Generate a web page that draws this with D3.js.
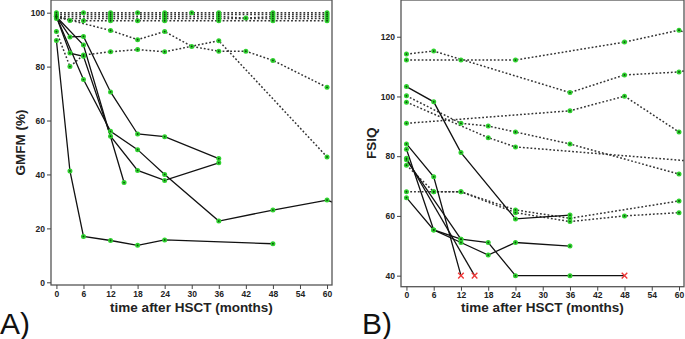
<!DOCTYPE html>
<html>
<head>
  <script src="https://d3js.org/d3.v7.min.js"></script>
  <style>
    body { margin: 0; background: #fff; }
    .tick text {
      font: bold 8.5px "Liberation Sans Narrow", "Arial Narrow", "Liberation Sans", sans-serif;
      fill: #222;
    }
    .tick line { stroke: #444; }
    .title {
      font: bold 13.5px "Liberation Sans Narrow", "Arial Narrow", "Liberation Sans", sans-serif;
      fill: #222;
    }
    .panel-letter {
      font: 30px "Liberation Sans", Arial, sans-serif;
      fill: #111;
    }
  </style>
</head>
<body>
  <svg class="chart"></svg>
  <script>
    // x tick values (months) shared by both panels
    var monthTicks = [0, 6, 12, 18, 24, 30, 36, 42, 48, 54, 60];

    // A) GMFM (%) -- dotted = stable patients, solid = declining patients
    var gmfmTicks = [0, 20, 40, 60, 80, 100];
    var gmfmDotted = [
      [[0, 100], [6, 100], [12, 100], [18, 100], [24, 100], [30, 100], [36, 100], [48, 100], [60, 100]],
      [[0, 99.3], [12, 99.3], [24, 99.3], [36, 99.3], [48, 99.3], [60, 99.3]],
      [[0, 98.6], [12, 98.6], [24, 98.6], [36, 98.6], [42, 98], [48, 98.6], [60, 98.6]],
      [[0, 97.8], [12, 97.8], [24, 97.8], [36, 97.8], [48, 97.8], [60, 97.8]],
      [[0, 99], [3, 97.1], [6, 97], [12, 97], [18, 97], [24, 97], [36, 97], [48, 97], [60, 97]],
      [[0, 98.5], [12, 93.4], [18, 90], [24, 93], [30, 87.5], [36, 85.7], [42, 85.7], [48, 82.3], [60, 72.3]],
      [[0, 93], [3, 80], [6, 84.3], [12, 85.5], [18, 86.3], [24, 85.5], [36, 89.6], [60, 46.5]]
    ];
    var gmfmSolid = [
      [[0, 89.7], [3, 41.3], [6, 17], [12, 15.5], [18, 13.7], [24, 15.7], [48, 14.3]],
      [[0, 98.5], [6, 75.2], [12, 56], [18, 49.2], [24, 40], [36, 22.7], [48, 26.8], [60, 30.5], [72, 22.5]],
      [[0, 98.5], [3, 85], [6, 83.8], [12, 54.2], [18, 41.5], [24, 37.8], [36, 44.3]],
      [[0, 98.5], [6, 88], [15, 37]],
      [[0, 98.5], [3, 91], [6, 91.2], [12, 70.6], [18, 55], [24, 54], [36, 45.9]]
    ];

    // B) FSIQ
    var fsiqTicks = [40, 60, 80, 100, 120];
    var fsiqDotted = [
      [[0, 114.2], [6, 115.2], [36, 101.3], [48, 107.2], [60, 108.2], [72, 111.8]],
      [[0, 112.2], [12, 112.2], [24, 112.2], [48, 118.2], [60, 122.2], [72, 114.5]],
      [[0, 91], [36, 95.2], [48, 100.1], [60, 88.1]],
      [[0, 100.2], [12, 91], [18, 90.1], [24, 88.1], [36, 84.1], [60, 74]],
      [[0, 98.1], [18, 86.2], [24, 83.1], [72, 77.2]],
      [[0, 68.1], [6, 68.1], [12, 68.1], [24, 62], [36, 59.2], [60, 65]],
      [[0, 77], [6, 68.1], [12, 68.1], [24, 61.1], [36, 58.1], [48, 60], [60, 61.1]]
    ];
    var fsiqSolid = [
      [[0, 103.3], [6, 98.2], [12, 81.2], [24, 59], [36, 60.3]],
      [[0, 84.1], [6, 73.1], [12, 40]],
      [[0, 79.3], [15, 40]],
      [[0, 82.3], [6, 55.3], [12, 52.2], [18, 51.1], [24, 40], [36, 40], [48, 40]],
      [[0, 66.1], [6, 55.3], [12, 51.1], [18, 46.9], [24, 51.1], [36, 49.9]],
      [[0, 78.8], [12, 52.2]]
    ];
    // last observations of patients who died (red crosses)
    var fsiqDeaths = [[12, 40], [15, 40], [48, 40]];

    var svg = d3.select('.chart')
      .attr('width', 685)
      .attr('height', 339);

    function drawPanel(cfg) {
      var x = d3.scaleLinear().domain([-1.2, 61.1]).range([cfg.left, cfg.right]);
      var y = d3.scaleLinear().domain(cfg.yDomain).range([cfg.bottom, cfg.top]);

      var clipId = 'clip-' + cfg.id;
      svg.append('clipPath').attr('id', clipId)
        .append('rect')
        .attr('x', cfg.left).attr('y', cfg.top)
        .attr('width', cfg.right - cfg.left).attr('height', cfg.bottom - cfg.top);

      var g = svg.append('g').attr('clip-path', 'url(#' + clipId + ')');
      var line = d3.line().x(function (d) { return x(d[0]); }).y(function (d) { return y(d[1]); });

      g.selectAll('.dotted')
        .data(cfg.dotted)
        .enter().append('path')
        .attr('d', line)
        .attr('fill', 'none')
        .attr('stroke', '#333')
        .attr('stroke-width', 1.5)
        .attr('stroke-dasharray', '1.8,2');

      g.selectAll('.solid')
        .data(cfg.solid)
        .enter().append('path')
        .attr('d', line)
        .attr('fill', 'none')
        .attr('stroke', '#111')
        .attr('stroke-width', 1.3);

      var deaths = cfg.deaths || [];
      function isDeath(p) {
        return deaths.some(function (q) { return q[0] === p[0] && q[1] === p[1]; });
      }
      var pts = [];
      cfg.dotted.concat(cfg.solid).forEach(function (s) {
        s.forEach(function (p) { if (!isDeath(p)) pts.push(p); });
      });

      g.selectAll('.pt')
        .data(pts)
        .enter().append('circle')
        .attr('cx', function (d) { return x(d[0]); })
        .attr('cy', function (d) { return y(d[1]); })
        .attr('r', 2.5)
        .attr('fill', '#2fd12f');
      g.selectAll('.ptc')
        .data(pts)
        .enter().append('circle')
        .attr('cx', function (d) { return x(d[0]); })
        .attr('cy', function (d) { return y(d[1]); })
        .attr('r', 0.9)
        .attr('fill', '#0b4d0b');

      var cross = d3.symbol().type(d3.symbolX).size(22);
      g.selectAll('.death')
        .data(deaths)
        .enter().append('path')
        .attr('d', cross)
        .attr('transform', function (d) { return 'translate(' + x(d[0]) + ',' + y(d[1]) + ')'; })
        .attr('fill', 'none')
        .attr('stroke', '#f03a3a')
        .attr('stroke-width', 1.4);

      // frame
      svg.append('rect')
        .attr('x', cfg.left).attr('y', cfg.top)
        .attr('width', cfg.right - cfg.left).attr('height', cfg.bottom - cfg.top)
        .attr('fill', 'none')
        .attr('stroke', '#555')
        .attr('stroke-width', 1.3);

      var yAxis = svg.append('g')
        .attr('transform', 'translate(' + cfg.left + ',0)')
        .call(d3.axisLeft(y).tickValues(cfg.yTicks).tickSize(4).tickPadding(2));
      yAxis.select('.domain').remove();

      var xAxis = svg.append('g')
        .attr('transform', 'translate(0,' + cfg.bottom + ')')
        .call(d3.axisBottom(x).tickValues(monthTicks).tickSize(4).tickPadding(1.5));
      xAxis.select('.domain').remove();

      svg.append('text')
        .attr('class', 'title')
        .attr('text-anchor', 'middle')
        .attr('x', (cfg.left + cfg.right) / 2)
        .attr('y', 312)
        .text('time after HSCT (months)');

      svg.append('text')
        .attr('class', 'title')
        .attr('text-anchor', 'middle')
        .attr('transform', 'translate(' + cfg.yTitleX + ',' + ((cfg.top + cfg.bottom) / 2) + ') rotate(-90)')
        .text(cfg.yTitle);

      svg.append('text')
        .attr('class', 'panel-letter')
        .attr('x', cfg.letterX)
        .attr('y', 334)
        .text(cfg.letter);
    }

    drawPanel({
      id: 'a', left: 51, right: 332, top: 0, bottom: 285,
      yDomain: [-1.0, 104.7], yTicks: gmfmTicks,
      dotted: gmfmDotted, solid: gmfmSolid,
      yTitle: 'GMFM (%)', yTitleX: 25, letter: 'A)', letterX: 0
    });

    drawPanel({
      id: 'b', left: 401, right: 684, top: 0, bottom: 286.7,
      yDomain: [36.3, 132.3], yTicks: fsiqTicks,
      dotted: fsiqDotted, solid: fsiqSolid, deaths: fsiqDeaths,
      yTitle: 'FSIQ', yTitleX: 376, letter: 'B)', letterX: 362
    });
  </script>
</body>
</html>
